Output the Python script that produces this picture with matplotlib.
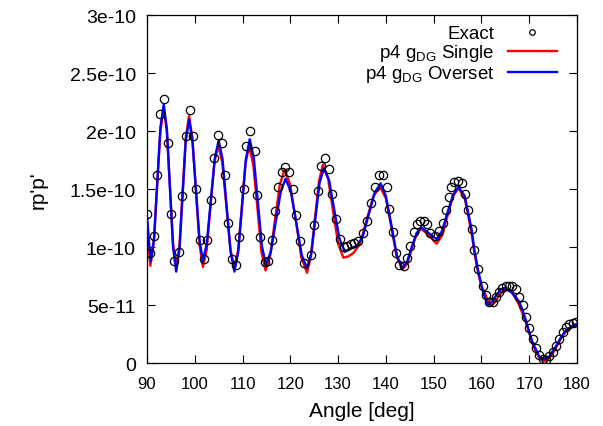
import matplotlib
matplotlib.use("Agg")
import matplotlib.pyplot as plt

plt.rcParams['font.family'] = ['Liberation Sans', 'DejaVu Sans']
plt.rcParams['mathtext.fontset'] = 'custom'
plt.rcParams['mathtext.rm'] = 'Liberation Sans'
plt.rcParams['mathtext.it'] = 'Liberation Sans'

# exact solution (values in units of 1e-10)
exact_x = [90.0, 90.7, 91.4, 92.1, 92.8, 93.6, 94.3, 95.1, 95.7, 96.6, 97.3, 98.1,
           98.9, 99.6, 100.3, 101.0, 101.9, 102.6, 103.3, 104.0, 104.8, 105.7, 106.4,
           107.0, 107.8, 108.6, 109.3, 110.2, 110.7, 111.6, 112.5, 113.1, 113.7, 114.6,
           115.3, 116.1, 116.8, 117.5, 118.2, 118.9, 119.7, 120.5, 121.2, 122.0, 122.9,
           124.3, 125.0, 125.8, 126.5, 127.3, 128.1, 128.8, 129.6, 130.3, 131.2, 131.9,
           132.6, 133.3, 134.2, 135.2, 136.0, 136.9, 137.7, 138.6, 139.3, 140.2, 140.7,
           141.4, 142.1, 142.8, 143.7, 144.4, 145.1, 145.9, 146.5, 147.2, 147.9, 148.6,
           149.3, 150.3, 151.2, 151.9, 152.6, 153.3, 153.6, 154.3, 155.0, 155.9, 156.5,
           157.2, 158.0, 158.5, 159.3, 160.3, 160.9, 161.6, 162.4, 163.0, 163.7, 164.4,
           165.1, 165.8, 166.4, 167.2, 167.9, 168.6, 169.3, 170.0, 170.7, 171.5, 172.1,
           172.8, 173.5, 174.2, 174.9, 175.6, 176.3, 177.0, 177.7, 178.4, 179.1, 179.8]
exact_y = [1.29, 0.95, 1.10, 1.62, 2.15, 2.28, 1.90, 1.29, 0.88, 0.96, 1.44, 1.96,
           2.18, 1.96, 1.50, 1.06, 0.90, 1.06, 1.41, 1.77, 1.97, 1.90, 1.62,
           1.21, 0.90, 0.85, 1.09, 1.50, 1.87, 2.00, 1.83, 1.45, 1.09, 0.87,
           0.88, 1.06, 1.31, 1.52, 1.65, 1.69, 1.65, 1.50, 1.28, 1.05, 0.86,
           0.93, 1.19, 1.48, 1.70, 1.77, 1.67, 1.46, 1.24, 1.07, 1.00, 1.01,
           1.03, 1.04, 1.05, 1.12, 1.23, 1.38, 1.52, 1.62, 1.62, 1.52, 1.33,
           1.13, 0.95, 0.85, 0.84, 0.91, 1.01, 1.13, 1.20, 1.23, 1.23, 1.20,
           1.12, 1.10, 1.14, 1.21, 1.32, 1.43, 1.52, 1.56, 1.57, 1.55, 1.46,
           1.32, 1.16, 0.98, 0.81, 0.67, 0.59, 0.53, 0.53, 0.57, 0.61, 0.65,
           0.67, 0.67, 0.67, 0.64, 0.57, 0.50, 0.40, 0.30, 0.21, 0.13, 0.07,
           0.04, 0.03, 0.06, 0.10, 0.15, 0.21, 0.27, 0.31, 0.34, 0.35, 0.36]

# p4 gDG single grid
single_x = [90.0, 90.35, 90.7, 91.4, 92.1, 92.8, 93.5, 94.15, 94.8, 95.45, 96.1,
            96.8, 97.45, 98.1, 98.8, 99.5, 100.25, 101.0, 101.7, 102.5, 103.3, 104.1,
            104.9, 105.75, 106.6, 107.45, 108.3, 109.1, 109.85, 110.6, 111.4, 112.25,
            113.1, 113.95, 114.8, 115.8, 116.8, 117.8, 118.8, 119.95, 121.15, 122.3,
            123.5, 124.3, 125.15, 126.0, 126.8, 127.9, 128.95, 130.0, 131.1, 132.1,
            133.2, 134.6, 136.0, 137.4, 138.8, 140.0, 141.15, 142.3, 143.5, 144.5,
            145.45, 146.4, 147.4, 149.0, 150.6, 151.75, 152.9, 154.05, 155.2, 156.5,
            157.2, 158.0, 158.5, 159.3, 160.0, 160.7, 161.3, 162.0, 162.7, 163.5,
            164.4, 165.3, 166.2, 167.0, 167.8, 168.5, 169.3, 170.0, 170.7, 171.5,
            172.2, 173.0, 173.6, 174.3, 175.0, 175.8, 176.6, 177.4, 178.2, 179.0, 180.0]
single_y = [1.20, 1.00, 0.84, 1.04, 1.52, 2.00, 2.20, 2.00, 1.52, 1.03, 0.83,
            1.02, 1.48, 1.94, 2.13, 1.94, 1.48, 1.02, 0.83, 0.98, 1.36, 1.73,
            1.88, 1.73, 1.36, 0.98, 0.83, 0.98, 1.35, 1.72, 1.87, 1.71,
            1.34, 0.96, 0.80, 0.93, 1.24, 1.54, 1.67, 1.54, 1.23, 0.91,
            0.78, 0.92, 1.25, 1.57, 1.71, 1.59, 1.31, 1.03, 0.91, 0.92,
            0.95, 1.03, 1.24, 1.44, 1.52, 1.42, 1.17, 0.91, 0.81, 0.86,
            0.99, 1.11, 1.16, 1.10, 1.03, 1.10, 1.27, 1.44, 1.51, 1.42,
            1.28, 1.10, 0.96, 0.78, 0.66, 0.61, 0.54, 0.50, 0.52, 0.57,
            0.62, 0.645, 0.62, 0.57, 0.51, 0.44, 0.35, 0.26, 0.17, 0.09,
            0.04, 0.02, 0.02, 0.05, 0.09, 0.15, 0.21, 0.26, 0.29, 0.32, 0.34]

# p4 gDG overset grid
overset_x = [90.0, 90.4, 90.8, 91.5, 92.15, 92.8, 93.5, 94.15, 94.8, 95.45, 96.1,
             96.8, 97.45, 98.1, 98.8, 99.5, 100.25, 101.0, 101.7, 102.5, 103.35, 104.2,
             105.0, 105.8, 106.65, 107.5, 108.3, 109.1, 109.9, 110.7, 111.5, 112.35,
             113.2, 114.05, 114.9, 115.9, 116.95, 118.0, 119.0, 120.1, 121.25, 122.4,
             123.5, 124.4, 125.25, 126.1, 127.0, 128.1, 129.2, 130.3, 131.4, 132.6,
             133.9, 135.15, 136.4, 137.65, 138.9, 140.0, 141.15, 142.3, 143.4, 144.4,
             145.4, 146.4, 147.4, 149.0, 150.6, 151.75, 152.9, 154.05, 155.2, 156.5,
             157.2, 158.0, 158.5, 159.3, 160.3, 161.3, 162.2, 163.0, 163.9, 164.8,
             166.3, 167.2, 167.9, 168.6, 169.3, 170.0, 170.7, 171.5, 172.1, 172.8,
             173.4, 174.2, 175.0, 175.8, 176.6, 177.4, 178.2, 179.0, 180.0]
overset_y = [1.27, 1.05, 0.88, 1.08, 1.56, 2.03, 2.23, 2.02, 1.51, 1.00, 0.79,
             0.98, 1.45, 1.91, 2.10, 1.92, 1.49, 1.06, 0.88, 1.03, 1.40, 1.77,
             1.92, 1.76, 1.36, 0.96, 0.79, 0.96, 1.36, 1.76, 1.93, 1.77,
             1.39, 1.01, 0.85, 0.96, 1.22, 1.48, 1.59, 1.48, 1.21, 0.93,
             0.82, 0.95, 1.25, 1.55, 1.68, 1.58, 1.32, 1.07, 0.96, 0.99,
             1.01, 1.09, 1.28, 1.47, 1.55, 1.44, 1.19, 0.93, 0.82, 0.87,
             1.00, 1.12, 1.17, 1.12, 1.07, 1.14, 1.30, 1.45, 1.52, 1.44,
             1.30, 1.14, 0.98, 0.80, 0.62, 0.50, 0.53, 0.58, 0.63, 0.65,
             0.61, 0.57, 0.53, 0.46, 0.37, 0.27, 0.18, 0.11, 0.06, 0.04,
             0.035, 0.06, 0.11, 0.16, 0.22, 0.27, 0.30, 0.32, 0.34]

scale = 1e-10
fig = plt.figure(figsize=(6.03, 4.27), dpi=100)
ax = fig.add_axes([0.2438, 0.1468, 0.7131, 0.8157])

ax.plot(single_x, [v * scale for v in single_y], color='#ff0000', lw=1.7,
        label='p4 g$_{\\rm DG}$ Single', zorder=2)
ax.plot(overset_x, [v * scale for v in overset_y], color='#0000ff', lw=1.7,
        label='p4 g$_{\\rm DG}$ Overset', zorder=3)
ax.plot(exact_x, [v * scale for v in exact_y], 'o', mfc='none', mec='black',
        ms=6, mew=0.9, label='Exact', zorder=4)

ax.set_xlim(90, 180)
ax.set_ylim(0, 3e-10)
ax.set_xticks(range(90, 181, 10))
yt = [0, 5e-11, 1e-10, 1.5e-10, 2e-10, 2.5e-10, 3e-10]
ax.set_yticks(yt)
ax.set_yticklabels(['0', '5e-11', '1e-10', '1.5e-10', '2e-10', '2.5e-10', '3e-10'])
ax.tick_params(direction='in', top=True, right=True, length=6, width=0.8,
               labelsize=12)
ax.tick_params(axis='x', pad=9)
ax.tick_params(axis='y', pad=8, labelsize=14)
for s in ax.spines.values():
    s.set_linewidth(0.9)

ax.set_xlabel('Angle [deg]', fontsize=15, labelpad=7)
ax.set_ylabel("rp'p'", fontsize=15, labelpad=16)

h, l = ax.get_legend_handles_labels()
order = [2, 0, 1]
leg = ax.legend([h[i] for i in order], [l[i] for i in order], loc='upper right',
                frameon=False, markerfirst=False, fontsize=13.5, handlelength=2.6,
                handletextpad=0.7, labelspacing=0.0, borderaxespad=0.0,
                bbox_to_anchor=(0.97, 0.993))
for t in leg.get_texts():
    t.set_ha('right')
leg.legend_handles[0].set_markersize(4)

fig.savefig('out.png', dpi=100)
